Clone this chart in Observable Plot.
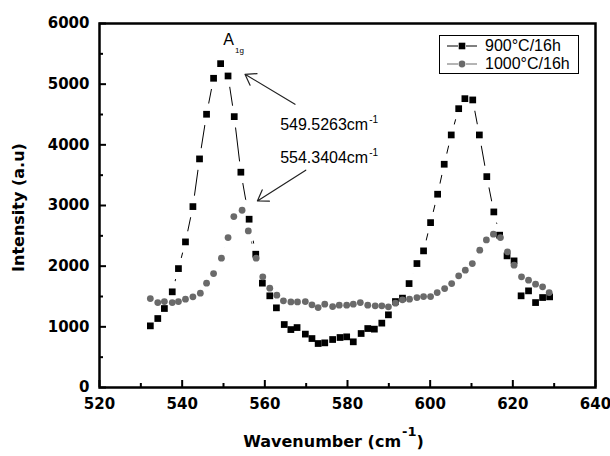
<!DOCTYPE html>
<html><head><meta charset="utf-8">
<script src="https://cdn.jsdelivr.net/npm/d3@7"></script>
<script src="https://cdn.jsdelivr.net/npm/@observablehq/plot@0.6"></script>
<style>
body{margin:0;background:#fff;}
#wrap{position:relative;width:610px;height:456px;}
.leg{position:absolute;left:439px;top:35px;width:138px;height:37px;border:1px solid #000;background:#fff;font-family:"Liberation Sans",Arial,sans-serif;font-size:16px;color:#000;}
.row{position:absolute;left:0;height:18px;display:flex;align-items:center;}
.row svg{margin-left:6px;}
.row span{margin-left:7px;}
</style></head><body><div id="wrap"></div>
<script>
// ---- data ----
const seriesNames = ["900°C/16h", "1000°C/16h"];
const wavenumber900 = [532.3,534.1,535.7,537.6,539.1,540.8,542.6,544.2,545.9,547.6,549.3,551.1,552.6,554.2,556.2,557.8,559.4,561.2,562.8,564.7,566.3,567.8,569.8,571.4,572.9,574.5,576.4,578.2,579.8,581.4,583.3,584.9,586.5,588.3,589.9,591.6,593.3,594.9,596.8,598.4,600.1,601.8,603.4,605.1,606.9,608.4,610.3,611.9,613.7,615.4,616.8,618.6,620.3,622.0,623.8,625.5,627.2,628.9];
const intensity900 = [1016,1137,1302,1577,1960,2400,2982,3768,4504,5097,5338,5135,4465,3549,2774,2197,1720,1511,1313,1038,955,988,880,807,725,736,791,824,835,753,890,972,962,1061,1198,1417,1473,1713,2043,2252,2718,3186,3680,4163,4596,4761,4740,4163,3476,2894,2511,2170,2087,1511,1593,1400,1483,1494];
const wavenumber1000 = [532.3,534.1,535.7,537.6,539.1,540.8,542.6,544.4,545.9,547.6,549.5,551.1,552.5,554.5,556.0,557.9,559.5,561.2,562.9,564.5,566.3,567.9,569.8,571.4,572.9,574.5,576.4,578.0,579.8,581.4,583.1,584.9,586.7,588.3,589.9,591.6,593.3,595.0,596.8,598.4,600.1,601.7,603.5,605.2,606.9,608.5,610.2,612.0,613.6,615.3,617.0,618.7,620.3,622.1,623.8,625.5,627.2,628.8];
const intensity1000 = [1466,1400,1417,1400,1417,1456,1494,1555,1720,1878,2132,2471,2817,2922,2581,2132,1824,1637,1522,1428,1411,1411,1417,1362,1318,1373,1334,1357,1357,1373,1400,1357,1346,1346,1329,1390,1445,1456,1483,1499,1499,1565,1631,1713,1840,1934,2043,2264,2433,2527,2471,2236,2016,1824,1769,1703,1659,1565];
const xMajorTicks = [520,540,560,580,600,620,640];
const xMinorTicks = [530,550,570,590,610,630];
const yMajorTicks = [0,1000,2000,3000,4000,5000,6000];
const yMinorTicks = [500,1500,2500,3500,4500,5500];
const annotationLabels = ["A", "549.5263cm", "554.3404cm"];
const annotationX = [549.95, 563.7, 563.7];
const annotationY = [5725, 4330, 3791];
const arrowFromX = [567.3, 569.9], arrowFromY = [4669, 3582];
const arrowToX = [555.2, 558.2], arrowToY = [5163, 3076];

// ---- build ----
const d900 = wavenumber900.map((x, i) => ({x, y: intensity900[i]}));
const d1000 = wavenumber1000.map((x, i) => ({x, y: intensity1000[i]}));
const annotations = annotationLabels.map((label, i) => ({label, x: annotationX[i], y: annotationY[i]}));
const arrows = arrowFromX.map((x1, i) => ({x1, y1: arrowFromY[i], x2: arrowToX[i], y2: arrowToY[i]}));

const W = 610, H = 456, mL = 99, mR = 15, mT = 23, mB = 69;
const innerW = W - mL - mR, innerH = H - mT - mB;
const gray = "#6a6a6a";

const plot = Plot.plot({
  width: W, height: H,
  marginLeft: mL, marginRight: mR, marginTop: mT, marginBottom: mB,
  style: {fontFamily: "DejaVu Sans", fontSize: "15px", fontWeight: "bold", color: "#000", background: "#fff"},
  x: {domain: [520, 640]},
  y: {domain: [0, 6000]},
  marks: [
    Plot.line(d900, {x: "x", y: "y", stroke: "#000", strokeWidth: 1}),
    Plot.line(d1000, {x: "x", y: "y", stroke: gray, strokeWidth: 1}),
    Plot.dot(d900, {x: "x", y: "y", r: 11, fill: "#fff", stroke: null}),
    Plot.dot(d1000, {x: "x", y: "y", r: 11, fill: "#fff", stroke: null}),
    Plot.dot(d900, {x: "x", y: "y", symbol: "square", r: 3.8, fill: "#000", stroke: null}),
    Plot.dot(d1000, {x: "x", y: "y", r: 3.4, fill: gray, stroke: null}),
    Plot.arrow(arrows, {x1: "x1", y1: "y1", x2: "x2", y2: "y2", stroke: "#222", strokeWidth: 1.2, headLength: 15, headAngle: 68}),
    Plot.text(annotations, {x: "x", y: "y", text: "label", textAnchor: "start", fontFamily: "Liberation Sans", fontWeight: "normal", fontSize: 16, fill: "#000"}),
    Plot.tickX(xMajorTicks, {x: d => d, insetTop: innerH - 7, stroke: "#000", strokeWidth: 2}),
    Plot.tickX(xMinorTicks, {x: d => d, insetTop: innerH - 4, stroke: "#000", strokeWidth: 2}),
    Plot.tickY(yMajorTicks, {y: d => d, insetRight: innerW - 7, stroke: "#000", strokeWidth: 2}),
    Plot.tickY(yMinorTicks, {y: d => d, insetRight: innerW - 4, stroke: "#000", strokeWidth: 2}),
    Plot.axisX({ticks: xMajorTicks, tickSize: 0, tickPadding: 11, tickFormat: d => String(d), label: null, fontSize: 15}),
    Plot.axisY({ticks: yMajorTicks, tickSize: 0, tickPadding: 10, tickFormat: d => String(d), label: null, fontSize: 15}),
    Plot.text(["Wavenumber (cm"], {frameAnchor: "bottom", dy: 59, dx: -14, fontSize: 16, fontWeight: "bold", textAnchor: "middle"}),
    Plot.text(["Intensity (a.u)"], {frameAnchor: "left", rotate: -90, dx: -80.5, dy: 2, fontSize: 16, fontWeight: "bold", textAnchor: "middle"}),
    Plot.frame({stroke: "#000", strokeWidth: 2.5})
  ]
});

// superscripts / subscripts
d3.select(plot).selectAll("text").each(function () {
  const t = this.textContent;
  const sel = d3.select(this);
  if (t === "Wavenumber (cm") {
    sel.append("tspan").attr("dy", -11).attr("dx", 1).attr("font-size", 13).text("-1");
    sel.append("tspan").attr("dy", 11).attr("font-size", 16).text(")");
  } else if (t === "549.5263cm" || t === "554.3404cm") {
    sel.append("tspan").attr("dy", -7).attr("dx", 1).attr("font-size", 10).text("-1");
  } else if (t === "A") {
    sel.append("tspan").attr("dy", 8).attr("dx", 1).attr("font-size", 8).text("1g");
  }
});

const wrap = document.getElementById("wrap");
wrap.appendChild(plot);

// legend
const leg = document.createElement("div");
leg.className = "leg";
const rows = [
  {name: seriesNames[0], top: 1, sym: `<line x1="1" y1="9" x2="12" y2="9" stroke="#000"/><line x1="20" y1="9" x2="31" y2="9" stroke="#000"/><rect x="12.7" y="5.7" width="6.6" height="6.6" fill="#000"/>`},
  {name: seriesNames[1], top: 19.3, sym: `<line x1="1" y1="9" x2="12" y2="9" stroke="${gray}"/><line x1="20" y1="9" x2="31" y2="9" stroke="${gray}"/><circle cx="16" cy="9" r="3.4" fill="${gray}"/>`}
];
rows.forEach(r => {
  const row = document.createElement("div");
  row.className = "row";
  row.style.top = r.top + "px";
  row.innerHTML = `<svg width="32" height="18">${r.sym}</svg><span>${r.name}</span>`;
  leg.appendChild(row);
});
wrap.appendChild(leg);
</script>
</body></html>
